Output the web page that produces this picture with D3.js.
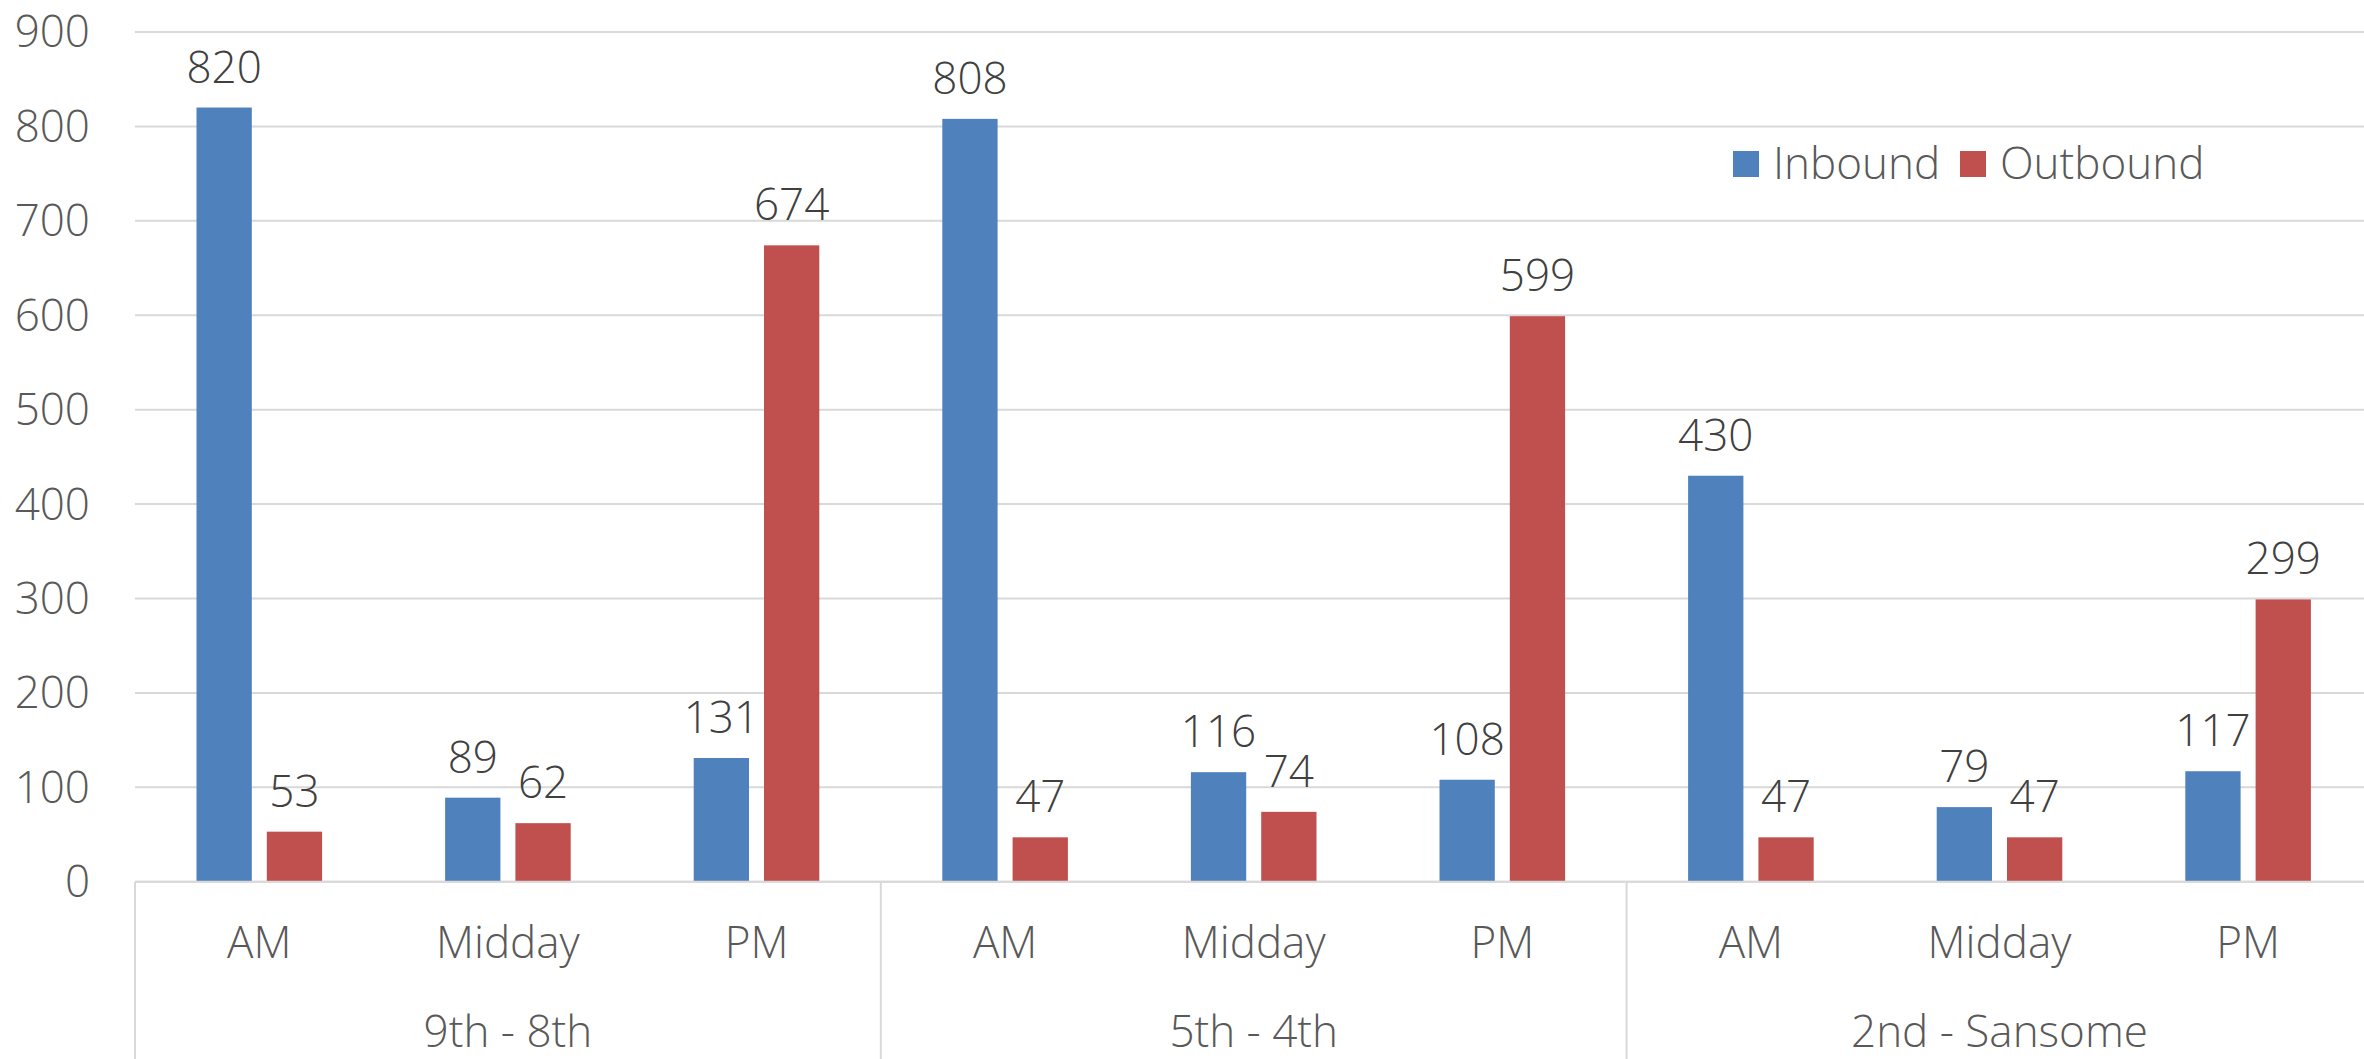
<!DOCTYPE html>
<html>
<head>
<meta charset="utf-8">
<script src="https://cdn.jsdelivr.net/npm/d3@7"></script>
<style>
  html, body { margin: 0; padding: 0; background: #ffffff; }
  svg { display: block; }
  text { font-family: "Open Sans", "Noto Sans", sans-serif; font-weight: 350; }
</style>
</head>
<body>
<script>
// Peak-period ridership by corridor segment
const groups = ["9th - 8th", "5th - 4th", "2nd - Sansome"];
const periods = ["AM", "Midday", "PM"];
const series = ["Inbound", "Outbound"];
const inbound = [820, 89, 131, 808, 116, 108, 430, 79, 117];
const outbound = [53, 62, 674, 47, 74, 599, 47, 47, 299];
const yTicks = [0, 100, 200, 300, 400, 500, 600, 700, 800, 900];
const colors = ["#4F81BD", "#C0504D"];

const W = 2364, H = 1059;
const plotLeft = 135, plotRight = 2372.4, plotTop = 32, plotBottom = 881.7;
const FONT = '"Open Sans", "Noto Sans", sans-serif';
const FS = 44;
const FW = 350;

const svg = d3.select("body").append("svg")
  .attr("width", W).attr("height", H);

// one slot per (segment, period) pair
const slots = [];
groups.forEach((g, gi) => periods.forEach((p, pi) => {
  const i = gi * periods.length + pi;
  slots.push({ key: i, group: g, period: p, values: [inbound[i], outbound[i]] });
}));

const x0 = d3.scaleBand().domain(slots.map(d => d.key)).range([plotLeft, plotRight]).padding(0);
const x1 = d3.scaleBand().domain(series).range([0, x0.bandwidth()])
  .paddingInner(0.2134).paddingOuter(0.8748);
const y = d3.scaleLinear().domain([0, 900]).range([plotBottom, plotTop]);

// horizontal gridlines
svg.append("g").selectAll("line").data(yTicks).join("line")
  .attr("x1", plotLeft).attr("x2", W)
  .attr("y1", d => y(d)).attr("y2", d => y(d))
  .attr("stroke", "#d9d9d9").attr("stroke-width", 2);

// y-axis tick labels
const yAxis = d3.axisLeft(y).tickValues(yTicks).tickSize(0).tickPadding(0);
const gy = svg.append("g").attr("transform", `translate(${plotLeft - 45},0)`).call(yAxis);
gy.select(".domain").remove();
gy.selectAll("text")
  .attr("font-family", FONT).attr("font-weight", FW)
  .attr("font-size", FS).attr("fill", "#595959").attr("dy", "0.34em");

// bars
const slotG = svg.append("g").selectAll("g").data(slots).join("g")
  .attr("transform", d => `translate(${x0(d.key)},0)`);

slotG.selectAll("rect").data(d => d.values.map((v, i) => ({ s: series[i], v, i }))).join("rect")
  .attr("x", d => x1(d.s)).attr("width", x1.bandwidth())
  .attr("y", d => y(d.v)).attr("height", d => y(0) - y(d.v))
  .attr("fill", d => colors[d.i]);

// value labels
slotG.selectAll("text.val").data(d => d.values.map((v, i) => ({ s: series[i], v }))).join("text")
  .attr("class", "val")
  .attr("x", d => x1(d.s) + x1.bandwidth() / 2)
  .attr("y", d => y(d.v) - 25)
  .attr("text-anchor", "middle")
  .attr("font-size", FS).attr("fill", "#404040")
  .text(d => d.v);

// baseline across the plot
svg.append("line").attr("x1", plotLeft).attr("x2", W)
  .attr("y1", y(0)).attr("y2", y(0))
  .attr("stroke", "#d9d9d9").attr("stroke-width", 2);

// category axis: period labels and segment separators
const xAxis = d3.axisBottom(x0).tickSize(0).tickPadding(0).tickFormat(k => slots[k].period);
const gx = svg.append("g").attr("transform", `translate(0,${plotBottom})`).call(xAxis);
gx.select(".domain").remove();
gx.selectAll("text")
  .attr("font-family", FONT).attr("font-weight", FW)
  .attr("font-size", FS).attr("fill", "#595959")
  .attr("y", 76).attr("dy", 0);

const groupStarts = groups.map((g, gi) => x0(gi * periods.length));
svg.append("g").selectAll("line").data(groupStarts).join("line")
  .attr("x1", d => d).attr("x2", d => d)
  .attr("y1", plotBottom).attr("y2", H)
  .attr("stroke", "#d9d9d9").attr("stroke-width", 2);

svg.append("g").selectAll("text").data(groups).join("text")
  .attr("x", (g, gi) => x0(gi * periods.length) + x0.bandwidth() * periods.length / 2)
  .attr("y", 1047)
  .attr("text-anchor", "middle")
  .attr("font-size", FS).attr("fill", "#595959")
  .text(d => d);

// legend
const legend = svg.append("g");
const legendX = [1733, 1960];
series.forEach((s, i) => {
  legend.append("rect").attr("x", legendX[i]).attr("y", 151)
    .attr("width", 26).attr("height", 26).attr("fill", colors[i]);
  legend.append("text").attr("x", legendX[i] + 40).attr("y", 179)
    .attr("font-size", FS).attr("fill", "#595959").text(s);
});
</script>
</body>
</html>
